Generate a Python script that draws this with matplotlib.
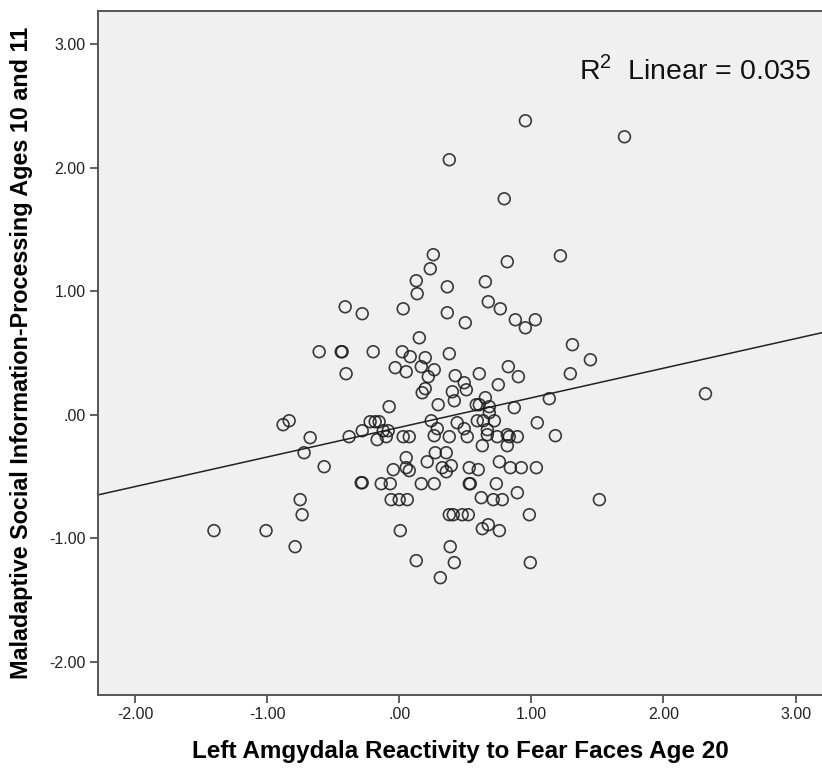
import matplotlib
matplotlib.use("Agg")
from matplotlib import pyplot as plt
import numpy as np

plt.rcParams['font.family'] = ['Liberation Sans', 'DejaVu Sans']
plt.rcParams['mathtext.fontset'] = 'custom'
plt.rcParams['mathtext.rm'] = 'Liberation Sans'

# amygdala reactivity (x) vs maladaptive processing (y)
amygdala = [
    0.955, 1.705, 0.379, 0.795, 0.258, 0.235, 0.818, 1.220, 0.129, 0.136,
    0.364, 0.652, -0.409, -0.280, 0.030, 0.364, 0.674, 0.765, 0.500, 0.879,
    0.955, 1.030, 0.152, 1.311, 1.447, -0.606, -0.439, -0.432, -0.197, 0.023,
    0.083, 0.197, 0.379, -0.030, 0.053, -0.402, 0.167, 0.265, 0.220, 0.424,
    0.492, 0.606, 0.826, 0.902, 1.295, 0.750, 0.197, 0.174, 0.402, 0.508,
    0.417, 0.295, 0.652, 0.583, 0.606, 0.682, 0.871, 1.136, -0.076, 1.045,
    0.242, 0.439, 0.288, 0.492, 0.591, 0.636, 0.720, 0.682, 0.667, -0.879,
    -0.833, -0.674, -0.379, -0.280, -0.220, -0.182, -0.152, -0.121, -0.083, -0.098,
    -0.167, 0.030, 0.076, 0.265, 0.379, 0.515, 0.667, 0.742, 0.818, 0.833,
    0.894, 1.182, 2.318, 0.629, 0.818, -0.720, -0.568, 0.053, 0.273, 0.356,
    0.212, 0.053, 0.076, -0.045, 0.326, 0.356, 0.394, 0.530, 0.598, 0.758,
    0.841, 0.924, 1.038, -0.288, -0.280, -0.136, -0.068, 0.167, 0.265, 0.530,
    0.538, 0.735, 0.894, -0.750, -0.735, -0.061, 0.000, 0.061, 0.621, 0.712,
    0.780, 1.515, 0.379, 0.409, 0.477, 0.523, 0.985, -1.402, -1.008, 0.008,
    0.629, 0.674, 0.758, -0.788, 0.386, 0.129, 0.417, 0.992, 0.311,
]
processing = [
    2.381, 2.251, 2.065, 1.749, 1.296, 1.182, 1.239, 1.287, 1.085, 0.980,
    1.036, 1.077, 0.874, 0.818, 0.858, 0.826, 0.915, 0.858, 0.745, 0.769,
    0.704, 0.769, 0.623, 0.567, 0.445, 0.510, 0.510, 0.510, 0.510, 0.510,
    0.470, 0.462, 0.494, 0.381, 0.348, 0.332, 0.389, 0.364, 0.308, 0.316,
    0.259, 0.332, 0.389, 0.308, 0.332, 0.243, 0.211, 0.178, 0.186, 0.202,
    0.113, 0.081, 0.138, 0.081, 0.081, 0.065, 0.057, 0.130, 0.065, -0.065,
    -0.049, -0.065, -0.113, -0.113, -0.049, -0.049, -0.049, 0.016, -0.121, -0.081,
    -0.049, -0.186, -0.178, -0.130, -0.057, -0.057, -0.057, -0.130, -0.130, -0.178,
    -0.202, -0.178, -0.178, -0.170, -0.178, -0.178, -0.162, -0.178, -0.162, -0.178,
    -0.178, -0.170, 0.170, -0.251, -0.251, -0.308, -0.421, -0.348, -0.308, -0.308,
    -0.381, -0.429, -0.453, -0.445, -0.429, -0.462, -0.413, -0.429, -0.445, -0.381,
    -0.429, -0.429, -0.429, -0.551, -0.551, -0.559, -0.559, -0.559, -0.559, -0.559,
    -0.559, -0.559, -0.632, -0.688, -0.810, -0.688, -0.688, -0.688, -0.672, -0.688,
    -0.688, -0.688, -0.810, -0.810, -0.810, -0.810, -0.810, -0.939, -0.939, -0.939,
    -0.923, -0.891, -0.939, -1.069, -1.069, -1.182, -1.198, -1.198, -1.320,
]

tick_vals = [-2.0, -1.0, 0.0, 1.0, 2.0, 3.0]

def spss_fmt(v):
    s = "%.2f" % v
    if s in ("0.00", "-0.00"):
        s = ".00"
    return s

x = np.array(amygdala)
y = np.array(processing)

fig = plt.figure(figsize=(8.22, 7.68), dpi=100)
ax = fig.add_axes([0.1192, 0.0951, 0.8808, 0.8906])
ax.set_facecolor('#f0f0f0')

ax.scatter(x, y, s=72, facecolors='none', edgecolors='#1a1a1a',
           linewidths=1.2, alpha=0.85, zorder=3)

# linear fit over the full x range
slope, intercept = np.polyfit(x, y, 1)
xl = np.array([-2.3, 3.3])
ax.plot(xl, slope * xl + intercept, color='#222222', linewidth=1.1, zorder=2)

ax.set_xlim(-2.28, 3.20)
ax.set_ylim(-2.27, 3.27)
ax.set_xticks(tick_vals)
ax.set_yticks(tick_vals)
ax.set_xticklabels([spss_fmt(v) for v in tick_vals])
ax.set_yticklabels([spss_fmt(v) for v in tick_vals])
ax.tick_params(direction='out', length=6, width=1.2, color='#444444',
               labelsize=11.5, labelcolor='#222222', pad=3)

for side in ['left', 'top', 'bottom']:
    ax.spines[side].set_color('#555555')
    ax.spines[side].set_linewidth(1.4)
ax.spines['right'].set_visible(False)

ax.set_xlabel("Left Amgydala Reactivity to Fear Faces Age 20",
              fontsize=17.5, fontweight='bold')
ax.xaxis.set_label_coords(0.5, -0.083)
ax.xaxis.label.set_va('center')
ax.set_ylabel("Maladaptive Social Information-Processing Ages 10 and 11",
              fontsize=16.8, fontweight='bold')
ax.yaxis.set_label_coords(-0.105, 0.5)
ax.yaxis.label.set_va('center')

ax.text(0.985, 0.913, r"R$^{2}$  Linear = 0.035", transform=ax.transAxes,
        ha='right', va='center', fontsize=20.5, color='#111111')

fig.savefig("out.png", dpi=100)
